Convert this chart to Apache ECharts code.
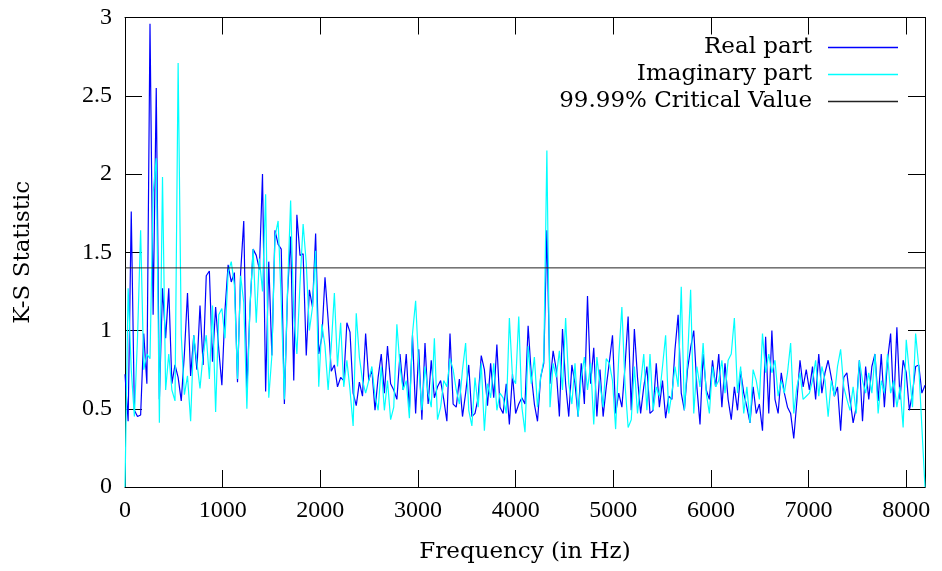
<!DOCTYPE html>
<html>
<head>
<meta charset="utf-8">
<script src="https://cdn.jsdelivr.net/npm/echarts@6/dist/echarts.min.js"></script>
<style>
  html, body { margin: 0; padding: 0; background: #fff; }
  #chart { width: 942px; height: 571px; }
</style>
</head>
<body>
<div id="chart"></div>
<script>
// K-S statistic per frequency bin (bins 32 Hz apart, 0 .. 8192 Hz)
const binWidthHz = 32;

const realPart = [
  0.72, 0.42, 1.76, 0.49, 0.45, 0.46, 0.98, 0.66, 2.96, 1.10,
  2.55, 0.56, 1.27, 0.95, 1.27, 0.66, 0.78, 0.70, 0.55, 0.85,
  1.24, 0.71, 0.97, 0.75, 1.16, 0.78, 1.35, 1.38, 0.80, 1.15,
  0.88, 0.65, 1.13, 1.42, 1.31, 1.37, 0.67, 1.37, 1.70, 0.61,
  1.15, 1.52, 1.48, 1.39, 2.00, 0.61, 1.44, 0.84, 1.64, 1.55,
  1.52, 0.53, 1.23, 1.60, 0.68, 1.74, 1.48, 1.49, 0.84, 1.26,
  1.15, 1.62, 0.85, 0.96, 1.34, 1.07, 0.74, 0.78, 0.64, 0.70,
  0.68, 1.05, 0.99, 0.60, 0.52, 0.67, 0.58, 0.98, 0.68, 0.75,
  0.49, 0.70, 0.85, 0.60, 0.90, 0.66, 0.62, 0.56, 0.85, 0.62,
  0.85, 0.49, 0.97, 0.47, 0.88, 0.43, 0.92, 0.53, 0.81, 0.57,
  0.64, 0.68, 0.56, 0.42, 0.98, 0.53, 0.51, 0.69, 0.45, 0.60,
  0.78, 0.45, 0.47, 0.57, 0.84, 0.75, 0.52, 0.79, 0.57, 0.91,
  0.51, 0.47, 0.66, 0.40, 0.72, 0.47, 0.53, 0.57, 0.53, 1.03,
  0.72, 0.53, 0.42, 0.70, 0.79, 1.64, 0.66, 0.87, 0.75, 0.45,
  1.01, 0.66, 0.45, 0.78, 0.66, 0.45, 0.79, 0.53, 1.22, 0.66,
  0.89, 0.45, 0.75, 0.45, 0.64, 0.80, 0.97, 0.47, 0.60, 0.51,
  0.77, 1.09, 0.49, 1.01, 0.70, 0.47, 0.64, 0.77, 0.47, 0.49,
  0.79, 0.51, 0.68, 0.44, 0.58, 0.56, 0.88, 1.10, 0.60, 0.49,
  0.75, 0.89, 1.00, 0.64, 0.40, 0.85, 0.62, 0.56, 0.81, 0.64,
  0.85, 0.51, 0.79, 0.56, 0.43, 0.64, 0.49, 0.74, 0.60, 0.51,
  0.41, 0.64, 0.47, 0.53, 0.36, 0.96, 0.47, 1.00, 0.56, 0.47,
  0.73, 0.60, 0.51, 0.47, 0.31, 0.55, 0.81, 0.64, 0.75, 0.62,
  0.77, 0.56, 0.85, 0.60, 0.73, 0.81, 0.70, 0.58, 0.64, 0.36,
  0.70, 0.73, 0.56, 0.41, 0.51, 0.81, 0.42, 0.77, 0.56, 0.77,
  0.85, 0.55, 0.85, 0.51, 0.81, 0.98, 0.51, 1.02, 0.56, 0.81,
  0.73, 0.49, 0.60, 0.77, 0.78, 0.60, 0.65
];

const imaginaryPart = [
  0.00, 1.27, 0.75, 0.45, 0.95, 1.64, 0.75, 0.85, 0.82, 1.88,
  2.10, 0.41, 1.98, 0.62, 0.85, 0.62, 0.55, 2.71, 0.97, 0.59,
  0.71, 0.42, 0.97, 0.80, 0.63, 0.85, 0.97, 0.69, 1.16, 0.48,
  1.10, 1.14, 0.95, 1.37, 1.44, 1.29, 0.69, 1.35, 1.18, 0.50,
  1.16, 1.52, 1.05, 1.46, 1.25, 1.87, 0.57, 0.84, 1.60, 1.70,
  1.18, 0.56, 1.25, 1.83, 1.10, 0.85, 1.30, 1.68, 1.43, 1.00,
  1.15, 1.51, 0.64, 1.04, 0.90, 0.62, 0.90, 1.24, 0.77, 1.05,
  0.64, 0.81, 0.62, 0.39, 1.11, 0.83, 0.68, 0.60, 0.68, 0.77,
  0.58, 0.49, 0.77, 0.49, 0.68, 0.43, 0.51, 1.04, 0.77, 0.62,
  0.68, 0.44, 0.98, 1.19, 0.77, 0.49, 0.77, 0.60, 0.51, 0.95,
  0.43, 0.51, 0.68, 0.64, 0.82, 0.75, 0.62, 0.53, 0.75, 0.92,
  0.49, 0.39, 0.70, 0.51, 0.79, 0.36, 0.66, 0.57, 0.79, 0.49,
  0.60, 0.57, 0.47, 1.08, 0.70, 0.66, 1.09, 0.51, 0.35, 0.90,
  0.66, 0.83, 0.51, 0.70, 0.81, 2.15, 0.51, 0.79, 0.70, 0.87,
  0.62, 1.08, 0.66, 0.53, 0.79, 0.45, 0.70, 0.83, 0.62, 0.79,
  0.40, 0.83, 0.66, 0.51, 0.82, 0.79, 0.68, 0.37, 0.83, 1.15,
  0.66, 0.38, 0.43, 0.77, 0.47, 0.66, 0.85, 0.49, 0.85, 0.49,
  0.64, 0.58, 0.77, 0.97, 0.47, 0.60, 0.77, 0.64, 1.28, 0.49,
  0.81, 1.26, 0.47, 0.77, 0.64, 0.92, 0.60, 0.47, 0.77, 0.64,
  0.68, 0.81, 0.60, 0.81, 0.85, 1.08, 0.60, 0.77, 0.47, 0.64,
  0.41, 0.75, 0.68, 0.56, 0.98, 0.73, 0.85, 0.73, 0.81, 0.58,
  0.68, 0.60, 0.73, 0.92, 0.47, 0.64, 0.73, 0.56, 0.58, 0.60,
  0.68, 0.81, 0.58, 0.77, 0.68, 0.45, 0.68, 0.58, 0.77, 0.88,
  0.64, 0.56, 0.49, 0.64, 0.47, 0.81, 0.68, 0.60, 0.73, 0.60,
  0.85, 0.47, 0.68, 0.60, 0.85, 0.60, 0.68, 0.51, 0.64, 0.38,
  0.94, 0.73, 0.51, 0.98, 0.77, 0.38, 0.00
];

const criticalValue = 1.4;
const freqMax = 8192;
const freqTickStep = 1000;
const statMax = 3;
const statTickStep = 0.5;

const seriesNames = ['Real part', 'Imaginary part', '99.99% Critical Value'];
const seriesColors = ['#0000ff', '#00ffff', '#222222'];

const toPairs = arr => arr.map((v, i) => [i * binWidthHz, v]);

const TICK_FONT = '"Liberation Serif", "Times New Roman", serif';
const TEXT_FONT = '"DejaVu Serif", "Liberation Serif", serif';
const frame = { show: true, onZero: false, lineStyle: { color: '#000', width: 1 } };
const innerTick = { show: true, inside: true, length: 17, lineStyle: { color: '#000', width: 1 } };

const chart = echarts.init(document.getElementById('chart'), null, { renderer: 'canvas' });

function legendFor(idx, top) {
  return {
    data: [seriesNames[idx]],
    right: 39,
    top: top,
    align: 'right',
    icon: 'rect',
    itemWidth: 70,
    itemHeight: 1.5,
    selectedMode: false,
    itemStyle: { color: seriesColors[idx], borderWidth: 0 },
    textStyle: { fontFamily: TEXT_FONT, fontSize: 23, color: '#000', padding: [0, 11, 0, 0] }
  };
}

chart.setOption({
  animation: false,
  backgroundColor: '#fff',
  grid: { left: 125, right: 17, top: 17.5, bottom: 84 },
  legend: [legendFor(0, 31), legendFor(1, 58), legendFor(2, 85)],
  xAxis: [
    {
      type: 'value', position: 'bottom', min: 0, max: freqMax, interval: freqTickStep,
      name: 'Frequency (in Hz)', nameLocation: 'middle', nameGap: 54,
      nameTextStyle: { fontFamily: TEXT_FONT, fontSize: 23, color: '#000' },
      axisLine: frame, axisTick: innerTick, splitLine: { show: false },
      axisLabel: {
        fontFamily: TICK_FONT, fontSize: 24, color: '#000', margin: 12,
        formatter: v => (v % freqTickStep === 0 ? String(v) : '')
      }
    },
    {
      type: 'value', position: 'top', min: 0, max: freqMax, interval: freqTickStep,
      axisLine: frame, axisTick: innerTick, axisLabel: { show: false }, splitLine: { show: false }
    }
  ],
  yAxis: [
    {
      type: 'value', position: 'left', min: 0, max: statMax, interval: statTickStep,
      name: 'K-S Statistic', nameLocation: 'middle', nameGap: 90, nameRotate: 90,
      nameTextStyle: { fontFamily: TEXT_FONT, fontSize: 23, color: '#000' },
      axisLine: frame, axisTick: innerTick, splitLine: { show: false },
      axisLabel: { fontFamily: TICK_FONT, fontSize: 24, color: '#000', margin: 13 }
    },
    {
      type: 'value', position: 'right', min: 0, max: statMax, interval: statTickStep,
      axisLine: frame, axisTick: innerTick, axisLabel: { show: false }, splitLine: { show: false }
    }
  ],
  series: [
    {
      name: seriesNames[0], type: 'line', data: toPairs(realPart),
      showSymbol: false, symbol: 'none',
      lineStyle: { color: seriesColors[0], width: 1.2 }, itemStyle: { color: seriesColors[0] }
    },
    {
      name: seriesNames[1], type: 'line', data: toPairs(imaginaryPart),
      showSymbol: false, symbol: 'none',
      lineStyle: { color: seriesColors[1], width: 1.2 }, itemStyle: { color: seriesColors[1] }
    },
    {
      name: seriesNames[2], type: 'line', data: [[0, criticalValue], [freqMax, criticalValue]],
      showSymbol: false, symbol: 'none',
      lineStyle: { color: seriesColors[2], width: 1 }, itemStyle: { color: seriesColors[2] }
    }
  ]
});
</script>
</body>
</html>
